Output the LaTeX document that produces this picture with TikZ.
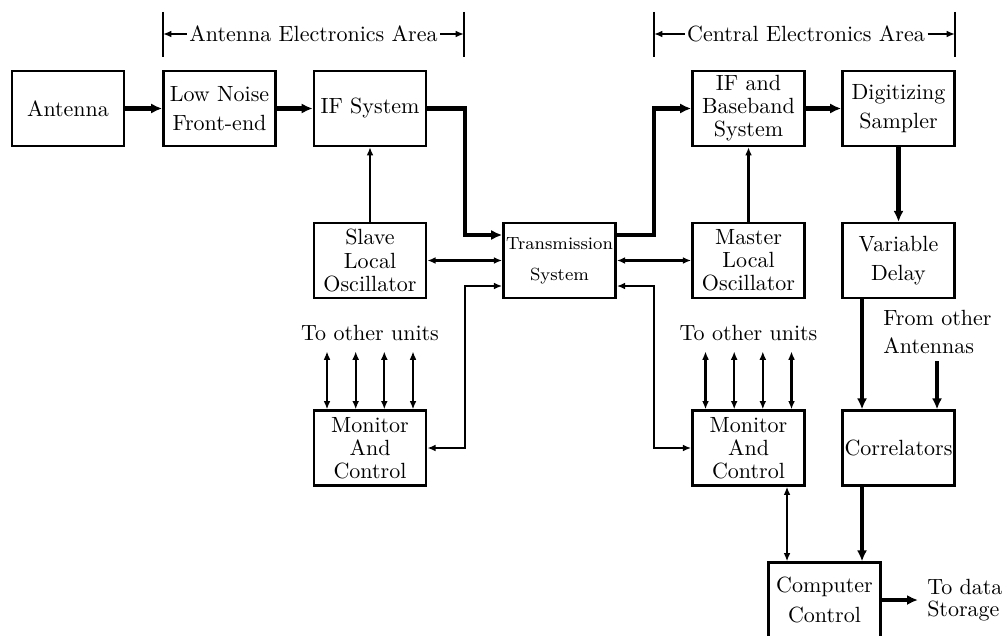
\documentclass[tikz,border=0pt]{standalone}
\usetikzlibrary{arrows.meta,calc}
\begin{document}
\begin{tikzpicture}[x=0.4545pt,y=-0.4545pt,
 box/.style={draw,line width=1.1pt,minimum width=51pt,minimum height=34pt,inner sep=0pt,align=center},
 two/.style={font=\fontsize{10}{13.2}\selectfont},
 three/.style={font=\fontsize{10}{10.5}\selectfont},
 thk/.style={line width=1.9pt,-{Latex[length=5pt,width=4.6pt]}},
 thn/.style={line width=1.05pt,-{Latex[length=3.8pt,width=3.1pt]}},
 thnb/.style={line width=1.05pt,{Latex[length=3.8pt,width=3.1pt]}-{Latex[length=3.8pt,width=3.1pt]}},
 barline/.style={line width=1.2pt},
 lbl/.style={inner sep=1pt}
]
\useasboundingbox (0,0) rectangle (1004,636);

% header areas
\draw[barline] (163,12) -- (163,57);
\draw[barline] (464,12) -- (464,57);
\draw[barline] (654,12) -- (654,57);
\draw[barline] (955,12) -- (955,57);
\coordinate (a1) at (163,34);
\coordinate (a2) at (464,34);
\coordinate (c1) at (654,34);
\coordinate (c2) at (955,34);
\node[lbl] (aea) at (313.5,34) {Antenna Electronics Area};
\node[lbl] (cea) at (806,34) {Central Electronics Area};
\draw[thn] (aea.west) -- (a1);
\draw[thn] (aea.east) -- (a2);
\draw[thn] (cea.west) -- (c1);
\draw[thn] (cea.east) -- (c2);

% boxes row 1
\node[box] (ant) at (68,108.5) {Antenna};
\node[box,two] (lnfe) at (219.5,108.5) {Low Noise\\Front-end};
\node[box] (ifs) at (370,108.5) {IF System};
\node[box,three] (ifbb) at (748.5,108.5) {IF and\\Baseband\\System};
\node[box,two] (dig) at (898.5,108.5) {Digitizing\\Sampler};
% row 2
\node[box,three] (slave) at (370,260.5) {Slave\\Local\\Oscillator};
\node[box,font=\fontsize{8}{14}\selectfont] (trans) at (559.5,260.5) {Transmission\\System};
\node[box,three] (master) at (748.5,260.5) {Master\\Local\\Oscillator};
\node[box,two] (vdel) at (898.5,260.5) {Variable\\Delay};
% row 3
\node[box,three] (monL) at (370,448) {Monitor\\And\\Control};
\node[box,three] (monR) at (748.5,448) {Monitor\\And\\Control};
\node[box] (corr) at (898.5,448) {Correlators};
% row 4
\node[box,two] (comp) at (824.5,600) {Computer\\Control};

% text labels
\node (toL) at (370,333) {To other units};
\node (toR) at (748.5,333) {To other units};
\node[anchor=north west,inner sep=0pt,align=left,font=\fontsize{10}{12.7}\selectfont] (from) at (883,310) {From other\\Antennas};
\node[anchor=west,inner sep=4pt,align=left,font=\fontsize{10}{9.8}\selectfont] (store) at (918,600) {To data\\Storage};

% signal path
\draw[thk] (ant) -- (lnfe);
\draw[thk] (lnfe) -- (ifs);
\draw[thk] (ifs.east) -- ++(38,0) |- ($(trans.west)+(0,-25.5)$);
\draw[thk] ($(trans.east)+(0,-25.5)$) -- ++(37,0) |- (ifbb.west);
\draw[thk] (ifbb) -- (dig);
\draw[thk] (dig) -- (vdel);
\draw[thk] ($(vdel.south)+(-36.5,0)$) -- ($(corr.north)+(-36.5,0)$);
\coordinate (fromarr) at ($(corr.north)+(38.5,-48)$);
\draw[thk] (fromarr) -- (fromarr |- corr.north);
\coordinate (corrout) at ($(corr.south)+(-36.5,0)$);
\draw[thk] (corrout) -- (corrout |- comp.north);
\draw[thk] (comp.east) -- (store.west);

% control lines
\draw[thn] (slave) -- (ifs);
\draw[thn] (master) -- (ifbb);
\draw[thnb] (slave) -- (trans);
\draw[thnb] (trans) -- (master);
\draw[thnb] (monL.east) -- ++(38,0) |- ($(trans.west)+(0,25.5)$);
\draw[thnb] ($(trans.east)+(0,25.5)$) -- ++(37,0) |- (monR.west);
\coordinate (monRout) at ($(monR.south)+(38.5,0)$);
\draw[thnb] (monRout) -- (monRout |- comp.north);

\foreach \dx in {-43,-14.3,14.3,43} {
  \draw[thnb] ($(monL.north)+(\dx,-58)$) -- ($(monL.north)+(\dx,0)$);
  \draw[thnb] ($(monR.north)+(\dx,-58)$) -- ($(monR.north)+(\dx,0)$);
}
\end{tikzpicture}
\end{document}
